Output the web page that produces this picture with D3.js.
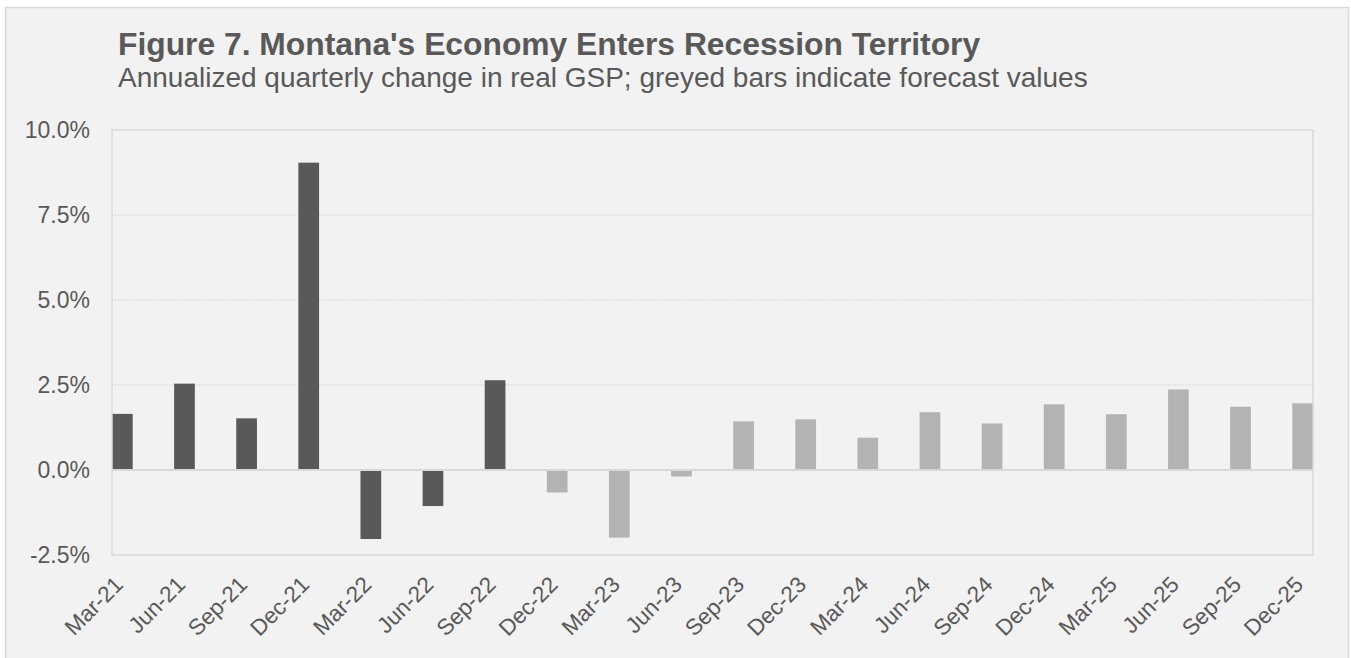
<!DOCTYPE html>
<html>
<head>
<meta charset="utf-8">
<script src="https://cdn.jsdelivr.net/npm/d3@7"></script>
<style>
  html, body { margin: 0; padding: 0; background: #ffffff; }
  svg { display: block; font-family: "Liberation Sans", Arial, sans-serif; }
</style>
</head>
<body>
<svg id="chart" width="1351" height="658"></svg>
<script>
// Quarterly periods
const quarters = ["Mar-21","Jun-21","Sep-21","Dec-21","Mar-22","Jun-22","Sep-22","Dec-22","Mar-23","Jun-23",
                  "Sep-23","Dec-23","Mar-24","Jun-24","Sep-24","Dec-24","Mar-25","Jun-25","Sep-25","Dec-25"];
// Annualized quarterly change in real GSP (%)
const gspChange = [1.65, 2.54, 1.52, 9.04, -2.03, -1.06, 2.64, -0.66, -1.99, -0.19,
                   1.43, 1.49, 0.95, 1.70, 1.37, 1.93, 1.64, 2.37, 1.86, 1.96];
// Whether each value is a forecast
const isForecast = [false, false, false, false, false, false, false, true, true, true,
                    true, true, true, true, true, true, true, true, true, true];
const yTicks = [-2.5, 0, 2.5, 5, 7.5, 10];

const title = "Figure 7. Montana's Economy Enters Recession Territory";
const subtitle = "Annualized quarterly change in real GSP; greyed bars indicate forecast values";

const svg = d3.select("#chart");
const textColor = "#595959";
const gridColor = "#d9d9d9";

// Chart area frame
svg.append("rect")
  .attr("x", 5.5).attr("y", 7.5)
  .attr("width", 1343).attr("height", 660)
  .attr("fill", "#f2f2f2")
  .attr("stroke", "#d9d9d9").attr("stroke-width", 1.5);

// Titles
svg.append("text")
  .attr("x", 118).attr("y", 55)
  .attr("fill", textColor)
  .attr("font-size", 31.8).attr("font-weight", "bold")
  .text(title);
svg.append("text")
  .attr("x", 118).attr("y", 87)
  .attr("fill", textColor)
  .attr("font-size", 28)
  .text(subtitle);

const plot = { left: 112, right: 1313, top: 130, bottom: 555 };

const x = d3.scaleBand()
  .domain(quarters)
  .range([plot.left, plot.right])
  .paddingInner(2 / 3)
  .paddingOuter(0);

const y = d3.scaleLinear()
  .domain([-2.5, 10])
  .range([plot.bottom, plot.top]);

// Dotted gridlines
svg.append("g")
  .selectAll("line")
  .data(yTicks.filter(v => v > 0 && v < 10))
  .join("line")
  .attr("x1", plot.left).attr("x2", plot.right)
  .attr("y1", d => y(d)).attr("y2", d => y(d))
  .attr("stroke", gridColor).attr("stroke-width", 1.5)
  .attr("stroke-dasharray", "1.5,1.5");

// Bars
svg.append("g")
  .selectAll("rect")
  .data(quarters.map((q, i) => ({ q, v: gspChange[i], f: isForecast[i] })))
  .join("rect")
  .attr("x", d => x(d.q))
  .attr("width", x.bandwidth())
  .attr("y", d => y(Math.max(0, d.v)))
  .attr("height", d => Math.abs(y(d.v) - y(0)))
  .attr("fill", d => d.f ? "#b3b3b3" : "#595959");

// Plot frame
svg.append("rect")
  .attr("x", plot.left).attr("y", plot.top)
  .attr("width", plot.right - plot.left).attr("height", plot.bottom - plot.top)
  .attr("fill", "none")
  .attr("stroke", gridColor).attr("stroke-width", 1.5);

// Zero line
svg.append("line")
  .attr("x1", plot.left).attr("x2", plot.right)
  .attr("y1", y(0)).attr("y2", y(0))
  .attr("stroke", gridColor).attr("stroke-width", 2);

// Y axis labels
const yAxis = d3.axisLeft(y)
  .tickValues(yTicks)
  .tickFormat(d => d.toFixed(1) + "%")
  .tickSize(0)
  .tickPadding(22);
const yg = svg.append("g").attr("transform", `translate(${plot.left},0)`).call(yAxis);
yg.select(".domain").remove();
yg.selectAll("text")
  .attr("fill", textColor)
  .attr("font-size", 23)
  .attr("font-family", "Liberation Sans, Arial, sans-serif");

// X axis labels, rotated
const xAxis = d3.axisBottom(x).tickSize(0).tickPadding(0);
const xg = svg.append("g").attr("transform", `translate(0,${plot.bottom})`).call(xAxis);
xg.select(".domain").remove();
xg.selectAll("text")
  .attr("fill", textColor)
  .attr("font-size", 22.5)
  .attr("font-family", "Liberation Sans, Arial, sans-serif")
  .attr("text-anchor", "end")
  .attr("dy", "0")
  .attr("transform", "translate(2,31) rotate(-45)");
</script>
</body>
</html>
